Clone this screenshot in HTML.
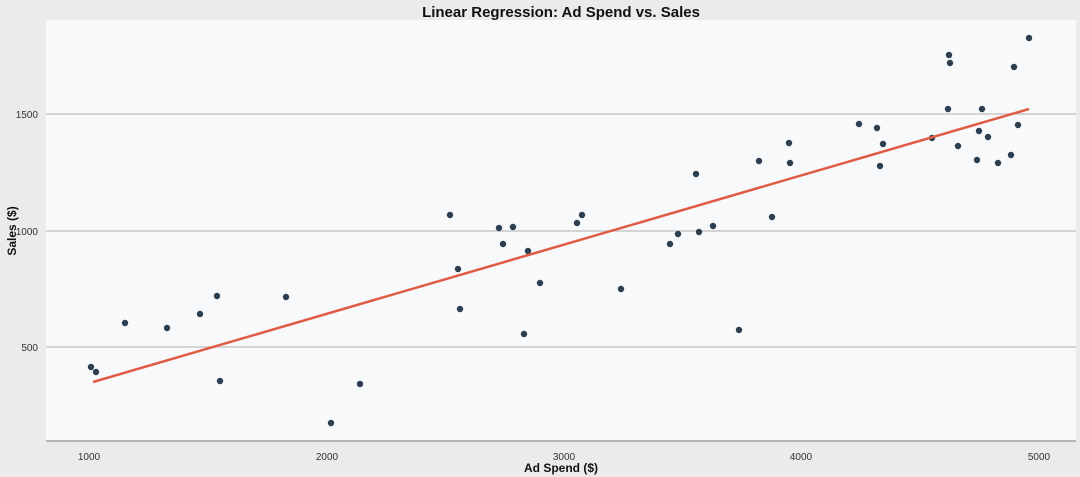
<!DOCTYPE html>
<html><head><meta charset="utf-8"><style>
html,body{margin:0;padding:0;background:#ebebeb;}
svg{display:block;font-family:"Liberation Sans",sans-serif;}
</style></head><body>
<svg width="1080" height="477" viewBox="0 0 1080 477">
<rect width="1080" height="477" fill="#ebebeb"/>
<rect x="46" y="20" width="1030" height="421" fill="#f7f9fb"/>
<g stroke="#c8c8c8" stroke-width="1.5">
<line x1="46" x2="1076" y1="114" y2="114"/>
<line x1="46" x2="1076" y1="231" y2="231"/>
<line x1="46" x2="1076" y1="347" y2="347"/>
</g>
<line x1="46" x2="1076" y1="441" y2="441" stroke="#777" stroke-width="1"/>
<g font-size="10" fill="#333" text-anchor="end">
<text x="38" y="118">1500</text><text x="38" y="235">1000</text><text x="38" y="351">500</text>
</g>
<g font-size="10" fill="#333" text-anchor="middle">
<text x="89" y="460">1000</text><text x="327" y="460">2000</text><text x="564" y="460">3000</text><text x="801" y="460">4000</text><text x="1039" y="460">5000</text>
</g>
<text x="561" y="17" font-size="15" font-weight="bold" text-anchor="middle" fill="#111">Linear Regression: Ad Spend vs. Sales</text>
<text x="561" y="472" font-size="12" font-weight="bold" text-anchor="middle" fill="#111">Ad Spend ($)</text>
<text transform="translate(16,231) rotate(-90)" font-size="12" font-weight="bold" text-anchor="middle" fill="#111">Sales ($)</text>
<g fill="#2c3e50">
<circle cx="91" cy="367" r="3.2"/><circle cx="96" cy="372" r="3.2"/><circle cx="125" cy="323" r="3.2"/><circle cx="167" cy="328" r="3.2"/><circle cx="200" cy="314" r="3.2"/><circle cx="217" cy="296" r="3.2"/><circle cx="220" cy="381" r="3.2"/><circle cx="286" cy="297" r="3.2"/><circle cx="331" cy="423" r="3.2"/><circle cx="360" cy="384" r="3.2"/><circle cx="450" cy="215" r="3.2"/><circle cx="458" cy="269" r="3.2"/><circle cx="460" cy="309" r="3.2"/><circle cx="499" cy="228" r="3.2"/><circle cx="503" cy="244" r="3.2"/><circle cx="513" cy="227" r="3.2"/><circle cx="524" cy="334" r="3.2"/><circle cx="528" cy="251" r="3.2"/><circle cx="540" cy="283" r="3.2"/><circle cx="577" cy="223" r="3.2"/><circle cx="582" cy="215" r="3.2"/><circle cx="621" cy="289" r="3.2"/><circle cx="670" cy="244" r="3.2"/><circle cx="678" cy="234" r="3.2"/><circle cx="696" cy="174" r="3.2"/><circle cx="699" cy="232" r="3.2"/><circle cx="713" cy="226" r="3.2"/><circle cx="739" cy="330" r="3.2"/><circle cx="759" cy="161" r="3.2"/><circle cx="772" cy="217" r="3.2"/><circle cx="789" cy="143" r="3.2"/><circle cx="790" cy="163" r="3.2"/><circle cx="859" cy="124" r="3.2"/><circle cx="877" cy="128" r="3.2"/><circle cx="880" cy="166" r="3.2"/><circle cx="883" cy="144" r="3.2"/><circle cx="932" cy="138" r="3.2"/><circle cx="948" cy="109" r="3.2"/><circle cx="949" cy="55" r="3.2"/><circle cx="950" cy="63" r="3.2"/><circle cx="958" cy="146" r="3.2"/><circle cx="977" cy="160" r="3.2"/><circle cx="979" cy="131" r="3.2"/><circle cx="982" cy="109" r="3.2"/><circle cx="988" cy="137" r="3.2"/><circle cx="998" cy="163" r="3.2"/><circle cx="1011" cy="155" r="3.2"/><circle cx="1014" cy="67" r="3.2"/><circle cx="1018" cy="125" r="3.2"/><circle cx="1029" cy="38" r="3.2"/>
</g>
<line x1="93" y1="382" x2="1029" y2="109" stroke="#e05a44" stroke-width="2.5"/>
</svg>
</body></html>
